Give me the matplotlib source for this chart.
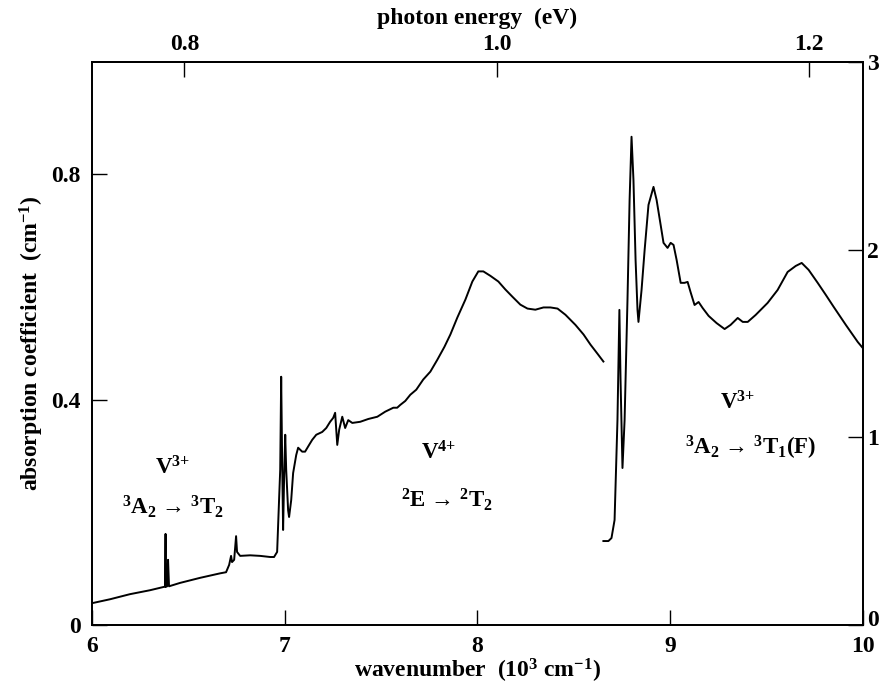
import matplotlib
matplotlib.use("Agg")
import matplotlib.pyplot as plt
import matplotlib.transforms as mtransforms

plt.rcParams['font.family'] = ['Liberation Serif', 'DejaVu Serif']
plt.rcParams['font.weight'] = 'bold'
plt.rcParams['mathtext.fontset'] = 'custom'
plt.rcParams['mathtext.rm'] = 'Liberation Serif:bold'
plt.rcParams['mathtext.bf'] = 'Liberation Serif:bold'
plt.rcParams['mathtext.it'] = 'Liberation Serif:bold:italic'

# Segment 1: V4+ / low-energy V3+ region (left axis, cm^-1)
wn1 = [6.000, 6.094, 6.197, 6.301, 6.374, 6.379, 6.382, 6.384, 6.390, 6.395, 6.400,
       6.457, 6.561, 6.665, 6.696, 6.712, 6.722, 6.727, 6.738, 6.748, 6.753, 6.769,
       6.821, 6.873, 6.925, 6.945, 6.961, 6.971, 6.977, 6.982, 6.987, 6.992, 6.997,
       7.003, 7.008, 7.018, 7.023, 7.034, 7.044, 7.060, 7.070, 7.091, 7.106, 7.127,
       7.143, 7.164, 7.195, 7.216, 7.236, 7.252, 7.262, 7.273, 7.283, 7.299, 7.314,
       7.330, 7.351, 7.392, 7.434, 7.481, 7.522, 7.564, 7.584, 7.600, 7.626, 7.652,
       7.683, 7.719, 7.756, 7.792, 7.829, 7.860, 7.896, 7.938, 7.974, 8.005, 8.031,
       8.068, 8.109, 8.145, 8.182, 8.223, 8.260, 8.301, 8.343, 8.379, 8.416, 8.457,
       8.509, 8.551, 8.587, 8.623, 8.654]
abs1 = [0.039, 0.046, 0.055, 0.062, 0.068, 0.068, 0.162, 0.068, 0.069, 0.116, 0.069,
        0.075, 0.084, 0.092, 0.094, 0.107, 0.123, 0.112, 0.116, 0.158, 0.130, 0.123,
        0.124, 0.123, 0.121, 0.121, 0.130, 0.222, 0.276, 0.441, 0.293, 0.169, 0.258,
        0.338, 0.276, 0.204, 0.192, 0.222, 0.270, 0.302, 0.315, 0.308, 0.308, 0.320,
        0.329, 0.338, 0.343, 0.350, 0.361, 0.368, 0.377, 0.320, 0.347, 0.370, 0.350,
        0.364, 0.359, 0.361, 0.366, 0.370, 0.379, 0.386, 0.386, 0.391, 0.398, 0.409,
        0.418, 0.436, 0.450, 0.471, 0.494, 0.516, 0.546, 0.578, 0.610, 0.628, 0.628,
        0.620, 0.610, 0.596, 0.583, 0.569, 0.562, 0.560, 0.564, 0.564, 0.562, 0.551,
        0.533, 0.516, 0.498, 0.482, 0.468]

# Segment 2: V3+ 3A2 -> 3T1(F) region (right axis)
wn2 = [8.654, 8.680, 8.696, 8.712, 8.727, 8.737, 8.743, 8.753, 8.764, 8.779, 8.790,
       8.800, 8.810, 8.821, 8.831, 8.836, 8.852, 8.868, 8.888, 8.914, 8.930, 8.951,
       8.966, 8.987, 9.003, 9.018, 9.034, 9.055, 9.075, 9.091, 9.106, 9.127, 9.148,
       9.169, 9.200, 9.241, 9.283, 9.314, 9.351, 9.377, 9.403, 9.444, 9.506, 9.558,
       9.610, 9.652, 9.683, 9.719, 9.766, 9.808, 9.849, 9.912, 9.974, 10.000]
abs2 = [0.448, 0.448, 0.464, 0.560, 1.092, 1.679, 1.306, 0.837, 1.092, 1.732, 2.265,
        2.601, 2.371, 1.945, 1.679, 1.615, 1.785, 1.998, 2.238, 2.334, 2.265, 2.132,
        2.036, 2.009, 2.036, 2.025, 1.945, 1.823, 1.823, 1.828, 1.775, 1.705, 1.721,
        1.689, 1.647, 1.609, 1.577, 1.599, 1.636, 1.615, 1.615, 1.652, 1.716, 1.785,
        1.881, 1.913, 1.929, 1.892, 1.823, 1.759, 1.695, 1.599, 1.508, 1.476]

x_ticks = [6, 7, 8, 9, 10]
y_left_ticks = [0, 0.4, 0.8]
y_left_labels = ["0", "0.4", "0.8"]
y_right_ticks = [0, 1, 2, 3]
ev_ticks = [0.8, 1.0, 1.2]
ev_labels = ["0.8", "1.0", "1.2"]
EV_FACTOR = 8.1  # 10^3 cm^-1 per eV as drawn in the figure

fig = plt.figure(figsize=(8.84, 6.87), dpi=100)
ax = fig.add_axes([0.104, 0.090, 0.872, 0.820])
ax2 = ax.twinx()

ax.plot(wn1, abs1, color='black', lw=1.4)
ax2.plot(wn2, abs2, color='black', lw=1.4)

ax.set_xlim(6, 10)
ax.set_ylim(0, 1.0)
ax2.set_ylim(0, 3)

tick_kw = dict(direction='in', length=11, width=1.0, labelsize=17)
ax.set_xticks(x_ticks)
ax.set_xticklabels([str(t) for t in x_ticks])
ax.set_yticks(y_left_ticks)
ax.set_yticklabels(y_left_labels)
ax.tick_params(axis='x', which='both', top=False, pad=8, **tick_kw)
ax.tick_params(axis='y', which='both', right=False, pad=8, **tick_kw)
ax2.set_yticks(y_right_ticks)
ax2.set_yticklabels([str(t) for t in y_right_ticks])
ax2.tick_params(axis='y', pad=3, **tick_kw)

# nudge the right-hand "0" label up slightly, as in the original
t0 = ax2.yaxis.get_major_ticks()[0].label2
t0.set_transform(t0.get_transform() + mtransforms.ScaledTranslation(0, 5 / 72, fig.dpi_scale_trans))

secax = ax.secondary_xaxis('top', functions=(lambda w: w / EV_FACTOR, lambda e: e * EV_FACTOR))
secax.set_xticks(ev_ticks)
secax.set_xticklabels(ev_labels)
secax.tick_params(axis='x', pad=5, **tick_kw)

for a in (ax, ax2):
    for s in a.spines.values():
        s.set_linewidth(1.3)
for s in secax.spines.values():
    s.set_linewidth(1.3)

for lab in ax.get_xticklabels() + ax.get_yticklabels() + ax2.get_yticklabels() + secax.get_xticklabels():
    lab.set_fontweight('bold')

ax.set_xlabel(r"wavenumber  (10$^{3}$ cm$^{-1}$)", fontsize=17, fontweight='bold', labelpad=0)
ax.set_ylabel(r"absorption coefficient  (cm$^{-1}$)", fontsize=17, fontweight='bold', labelpad=4)
secax.set_xlabel("photon energy  (eV)", fontsize=17, fontweight='bold', labelpad=7)

txt_kw = dict(fontsize=16.5, fontweight='bold', ha='center', va='center')
ax.text(6.42, 0.28, r"V$^{3{+}}$", **txt_kw)
ax.text(6.42, 0.21, r"$^{3}$A$_{2}$ → $^{3}$T$_{2}$", **txt_kw)
ax.text(7.80, 0.305, r"V$^{4{+}}$", **txt_kw)
ax.text(7.84, 0.222, r"$^{2}$E → $^{2}$T$_{2}$", **txt_kw)
ax.text(9.35, 0.395, r"V$^{3{+}}$", **txt_kw)
ax.text(9.42, 0.315, r"$^{3}$A$_{2}$ → $^{3}$T$_{1}$(F)", **txt_kw)

fig.savefig("out.png", dpi=100)
